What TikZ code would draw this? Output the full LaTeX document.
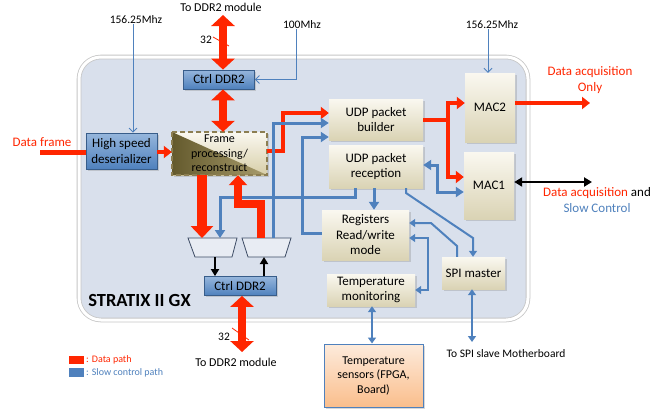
\documentclass[tikz,border=0pt]{standalone}
\usepackage{fontspec}
\setmainfont{Carlito}
\usetikzlibrary{arrows.meta,shadows,calc}
\definecolor{dred}{RGB}{255,38,0}
\definecolor{sblue}{RGB}{79,129,189}
\definecolor{bbtop}{RGB}{150,182,220}
\definecolor{bbbot}{RGB}{79,129,189}
\definecolor{bbdraw}{RGB}{56,93,138}
\definecolor{tantop}{RGB}{250,248,240}
\definecolor{tanbot}{RGB}{218,211,180}
\definecolor{fpgafill}{RGB}{217,224,236}
\definecolor{olived}{RGB}{100,90,45}
\definecolor{olivel}{RGB}{168,156,108}
\definecolor{framedash}{RGB}{140,126,82}
\definecolor{orgtop}{RGB}{253,235,220}
\definecolor{orgbot}{RGB}{250,190,140}
\definecolor{muxdraw}{RGB}{60,75,100}
\tikzset{
  box/.style={rectangle, inner sep=0pt, align=center, font=\fontsize{13}{15.5}\selectfont},
  shd/.style={drop shadow={opacity=0.3, shadow xshift=1.5pt, shadow yshift=-1.5pt}},
  bluebox/.style={box, shd, draw=bbdraw, line width=0.8pt, top color=bbtop, bottom color=bbbot},
  tanbox/.style={box, shd, top color=tantop, bottom color=tanbot},
  lbl/.style={inner sep=0pt, align=center, font=\fontsize{12}{14}\selectfont},
  bigred/.style={draw=dred, line width=8pt, {Triangle[length=11pt,width=23pt]}-{Triangle[length=11pt,width=23pt]}},
  redA/.style={draw=dred, line width=4pt, -{Triangle[length=8pt,width=12pt]}},
  blueA/.style={draw=sblue, line width=3pt, -{Triangle[length=8pt,width=10pt]}},
  blueAd/.style={draw=sblue, line width=3pt, {Triangle[length=8pt,width=10pt]}-{Triangle[length=8pt,width=10pt]}},
  blueM/.style={draw=sblue, line width=2pt, -{Triangle[length=6pt,width=8pt]}},
  blueMd/.style={draw=sblue, line width=2pt, {Triangle[length=6pt,width=8pt]}-{Triangle[length=6pt,width=8pt]}},
  clk/.style={draw=sblue, line width=0.8pt, -{Straight Barb[length=4pt,width=8pt]}},
  blk/.style={draw=black, line width=2.5pt, -{Triangle[length=7pt,width=8pt]}},
  blkd/.style={draw=black, line width=2.5pt, {Triangle[length=8pt,width=9pt]}-{Triangle[length=8pt,width=9pt]}},
  muxs/.style={draw=muxdraw, line width=0.8pt, fill={rgb,255:red,232;green,236;blue,243}},
}
\begin{document}
\begin{tikzpicture}[x=1pt,y=-1pt]
\useasboundingbox (0,0) rectangle (668,410);
\fill[white] (0,0) rectangle (668,410);
% FPGA
\node[rectangle, rounded corners=22pt, draw=gray!45, line width=0.8pt, double=white, double distance=3pt, fill=fpgafill, minimum width=449pt, minimum height=263pt, inner sep=0pt] (fpga) at (303.5,188.5) {};
\node[inner sep=0pt, font=\fontsize{18.5}{20}\selectfont\bfseries] (fpgalbl) at (139.5,300) {STRATIX II GX};

% boxes
\node[bluebox, minimum width=71pt, minimum height=19pt] (ctrlT) at (219,79.5) {Ctrl DDR2};
\node[bluebox, minimum width=72pt, minimum height=19pt] (ctrlB) at (240,286) {Ctrl DDR2};
\node[bluebox, minimum width=71pt, minimum height=36pt] (hsd) at (121.5,151) {High speed\\deserializer};
\node[box, shd, minimum width=95pt, minimum height=43pt, top color=tantop, bottom color={rgb,255:red,215;green,206;blue,168},
  path picture={\shade[left color=olived, right color=olivel] (path picture bounding box.north west) -- (path picture bounding box.south east) -- (path picture bounding box.south west) -- cycle;},
  font=\fontsize{12}{14.5}\selectfont] (frame) at (219.5,153.5) {Frame\\processing/\\reconstruct};
\draw[framedash, line width=1.5pt, dash pattern=on 5pt off 3pt] (frame.north west) rectangle (frame.south east);
\node[tanbox, minimum width=94pt, minimum height=41pt] (udpb) at (376,119.5) {UDP packet\\builder};
\node[tanbox, minimum width=94pt, minimum height=43pt] (udpr) at (376,166.5) {UDP packet\\reception};
\node[tanbox, minimum width=50pt, minimum height=69pt] (mac2) at (490,107.5) {MAC2};
\node[tanbox, minimum width=50pt, minimum height=67pt] (mac1) at (489,185.5) {MAC1};
\node[tanbox, minimum width=87pt, minimum height=50pt] (regs) at (365.5,235) {Registers\\Read/write\\mode};
\node[tanbox, minimum width=63pt, minimum height=32pt] (spi) at (473.5,273) {SPI master};
\node[tanbox, minimum width=88pt, minimum height=32pt] (tmon) at (371,290) {Temperature\\monitoring};
\node[box, shd, draw=sblue, line width=1pt, top color=orgtop, bottom color=orgbot, minimum width=99pt, minimum height=63pt, font=\fontsize{12}{14.5}\selectfont] (tsens) at (373.5,375.5) {Temperature\\sensors (FPGA,\\Board)};

% muxes
\draw[muxs] (188,238) -- (237,238) -- (232,257) -- (195,257) -- cycle;
\draw[muxs] (242,238) -- (291,238) -- (285,257) -- (248,257) -- cycle;
\coordinate (m1in) at (220,238);
\coordinate (m2out) at (273,238);

% labels
\node[lbl] (ddrtop) at (221,7) {To DDR2 module};
\node[lbl] (ddrbot) at (236,362) {To DDR2 module};
\node[lbl, font=\fontsize{11.5}{13}\selectfont] (clk1) at (136,20) {156.25Mhz};
\node[lbl, font=\fontsize{11.5}{13}\selectfont] (clk2) at (302,25) {100Mhz};
\node[lbl, font=\fontsize{11.5}{13}\selectfont] (clk3) at (492,25) {156.25Mhz};
\node[lbl, font=\fontsize{11.5}{13}\selectfont] (n32a) at (206,40) {32};
\node[lbl, font=\fontsize{11.5}{13}\selectfont] (n32b) at (224,337) {32};
\node[lbl, font=\fontsize{13}{15}\selectfont, text=dred] (dframe) at (42,142) {Data frame};
\node[lbl, font=\fontsize{13}{16}\selectfont, text=dred] (daq) at (590,80.5) {Data acquisition\\Only};
\node[lbl, font=\fontsize{13}{16}\selectfont] (daqsc) at (597,200) {{\color{dred}Data acquisition} and\\{\color{sblue}Slow Control}};
\node[lbl, font=\fontsize{11.5}{13}\selectfont] (spitxt) at (506,354) {To SPI slave Motherboard};

% legend
\fill[dred] (69,356) rectangle (84,364);
\fill[sblue] (69,368) rectangle (84,377);
\node[lbl, anchor=west, font=\fontsize{10}{12}\selectfont, text=dred] (lg1) at (86,359.5) {: Data path};
\node[lbl, anchor=west, font=\fontsize{10}{12}\selectfont, text=sblue] (lg2) at (86,372.5) {: Slow control path};

% clock lines
\draw[clk] (clk1.south -| 133,0) -- (hsd.north -| 133,0);
\draw[clk] (clk2.south -| 296,0) |- (ctrlT.east);
\draw[clk] (clk3.south -| 488,0) -- (mac2.north -| 488,0);

% DDR links
\coordinate (ddrTend) at (223,15);
\draw[bigred] (ddrTend) -- (ctrlT.north -| ddrTend);
\draw[dred, line width=0.8pt] (213,37) -- (229,46);
\draw[bigred] (ctrlT.south -| ddrTend) -- (frame.north -| ddrTend);
\coordinate (ddrBend) at (242,352);
\draw[bigred] (ctrlB.south -| ddrBend) -- (ddrBend);
\draw[dred, line width=0.8pt] (232,328) -- (249,340);

% data path
\coordinate (dfstart) at (40,152);
\draw[dred, line width=5pt] (dfstart) -- (hsd.west |- dfstart);
\draw[redA] (hsd.east |- 0,152) -- (frame.west |- 0,152);
\draw[redA] (frame.east |- 0,151) -| (283,113) -- (udpb.west |- 0,113);
\coordinate (jr) at (448,120);
\draw[redA] (udpb.east |- jr) -| (448,103) -- (mac2.west |- 0,103);
\draw[redA] (jr) |- (mac1.west |- 0,177);
\coordinate (daqend) at (590,103);
\draw[redA] (mac2.east |- daqend) -- (daqend);
\coordinate (scend) at (592,182);
\draw[blkd] (mac1.east |- scend) -- (scend);

% slow control
\draw[blueA] (m2out) -- (273,123) -- (udpb.west |- 0,123);
\draw[blueA] (regs.west |- 0,233) -| (302,137) -- (udpb.west |- 0,137);
\draw[blueA] (udpr.south -| 355,0) |- (220,197) -- (m1in);
\draw[blueA] (udpr.south -| 374,0) -- (regs.north -| 374,0);
\draw[blueAd] (udpr.east |- 0,165) -| (437,192) -- (mac1.west |- 0,192);
\draw[blueM] (udpr.south -| 406,0) -- (406,193) -- (473,238) -- (spi.north -| 473,0);
\draw[blueM] (spi.north -| 457,0) -- (457,246) -- (431,223) -- (regs.east |- 0,223);
\draw[blueMd] (regs.east |- 0,238) -| (428,290) -- (tmon.east |- 0,290);
\draw[blueMd] (tmon.south -| 372,0) -- (tsens.north -| 372,0);
\coordinate (spiend) at (472,342);
\draw[blueMd] (spi.south -| spiend) -- (spiend);

% thick data arrows near muxes
\draw[draw=dred, line width=10pt, -{Triangle[length=12pt,width=22pt]}] (frame.south -| 202,0) -- (202,238);
\draw[draw=dred, line width=8pt, -{Triangle[length=10pt,width=18pt]}] (260.5,238) |- (238,204) -- (frame.south -| 238,0);
\draw[blk] (215,257) -- (ctrlB.north -| 215,0);
\draw[blk] (ctrlB.north -| 264,0) -- (264,257);
\end{tikzpicture}
\end{document}
